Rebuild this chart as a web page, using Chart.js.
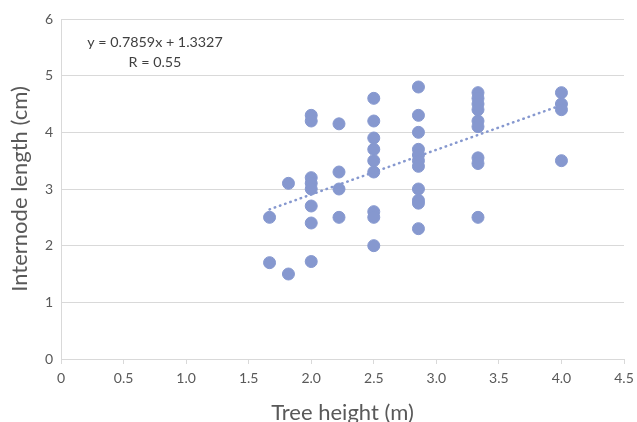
<!DOCTYPE html>
<html>
<head>
<meta charset="utf-8">
<script src="https://cdn.jsdelivr.net/npm/chart.js@4"></script>
<style>
  html, body { margin: 0; padding: 0; background: #fff; }
  #wrap { width: 637px; height: 422px; }
</style>
</head>
<body>
<div id="wrap"><canvas id="chart" width="637" height="422"></canvas></div>
<script>
// --- Data ---
// tree height columns (m) and the internode lengths measured at each
const heights = [1.667, 1.818, 2, 2.222, 2.5, 2.857, 3.333, 4];
const lengths = [
    [2.5, 1.7],
    [3.1, 1.5],
    [4.3, 4.2, 3.2, 3.1, 3.0, 2.7, 2.4, 1.72],
    [4.15, 3.3, 3.0, 2.5],
    [4.6, 4.2, 3.9, 3.7, 3.5, 3.3, 2.6, 2.5, 2.0],
    [4.8, 4.3, 4.0, 3.7, 3.6, 3.5, 3.4, 3.0, 2.8, 2.75, 2.3],
    [4.7, 4.6, 4.5, 4.4, 4.2, 4.1, 3.55, 3.45, 2.5],
    [4.7, 4.5, 4.4, 3.5]
];
// linear trendline end points
const trendX = [1.667, 4];
const trendY = [2.64, 4.48];
const equationText = 'y = 0.7859x + 1.3327';
const rText = 'R = 0.55';

const xTicks = [0, 0.5, 1, 1.5, 2, 2.5, 3, 3.5, 4, 4.5];
const yTicks = [0, 1, 2, 3, 4, 5, 6];

const dotColor = 'rgb(134,152,207)';
const textColor = '#595959';
const fontFamily = 'Lato, "Open Sans", sans-serif';

// flatten into scatter points
const points = [];
heights.forEach((h, i) => {
    lengths[i].forEach(v => points.push({ x: h, y: v }));
});
const trendPoints = trendX.map((x, i) => ({ x: x, y: trendY[i] }));

// equation label in the top-left corner
const equationPlugin = {
    id: 'equation',
    afterDraw(chart) {
        const ctx = chart.ctx;
        ctx.save();
        ctx.fillStyle = '#404040';
        ctx.font = '14.3px ' + fontFamily;
        ctx.textAlign = 'center';
        ctx.textBaseline = 'middle';
        ctx.fillText(equationText, 155, 42);
        ctx.fillText(rText, 155, 62);
        ctx.restore();
    }
};

const ctx = document.getElementById('chart').getContext('2d');
new Chart(ctx, {
    type: 'scatter',
    data: {
        datasets: [
            {
                type: 'line',
                label: 'Trend',
                data: trendPoints,
                borderColor: dotColor,
                borderWidth: 2.5,
                borderDash: [0.5, 5],
                borderCapStyle: 'round',
                pointRadius: 0,
                fill: false,
                order: 0
            },
            {
                label: 'Internode length',
                data: points,
                backgroundColor: dotColor,
                borderColor: dotColor,
                pointRadius: 6,
                pointHoverRadius: 6,
                order: 1
            }
        ]
    },
    options: {
        responsive: false,
        animation: false,
        layout: { padding: { top: 19, right: 13, left: 0, bottom: 0 } },
        plugins: { legend: { display: false }, tooltip: { enabled: false } },
        scales: {
            x: {
                type: 'linear',
                min: 0,
                max: 4.5,
                afterBuildTicks: s => { s.ticks = xTicks.map(v => ({ value: v })); },
                ticks: { color: textColor, font: { family: fontFamily, size: 14 }, padding: 6, maxRotation: 0 },
                grid: { drawOnChartArea: false, drawTicks: true, tickLength: 5, color: '#d9d9d9' },
                border: { color: '#d9d9d9' },
                title: {
                    display: true,
                    text: 'Tree height (m)',
                    color: textColor,
                    font: { family: fontFamily, size: 22, lineHeight: 1 },
                    padding: { top: 4, bottom: -2 }
                },
                afterFit: s => { s.height = 63; s.paddingRight = 0; s.paddingLeft = 0; }
            },
            y: {
                type: 'linear',
                min: 0,
                max: 6,
                ticks: {
                    stepSize: 0.2,
                    color: textColor,
                    font: { family: fontFamily, size: 14 },
                    padding: 8,
                    callback: v => (yTicks.includes(Math.round(v * 10) / 10) ? String(Math.round(v)) : null)
                },
                grid: {
                    drawTicks: false,
                    color: c => (Math.abs(c.tick.value - Math.round(c.tick.value)) < 1e-6 ? '#d9d9d9' : '#efefef')
                },
                border: { color: '#d9d9d9' },
                title: {
                    display: true,
                    text: 'Internode length (cm)',
                    color: textColor,
                    font: { family: fontFamily, size: 22, lineHeight: 1.2 },
                    padding: { top: 7, bottom: 4 }
                },
                afterFit: s => { s.width = 61; }
            }
        }
    },
    plugins: [equationPlugin]
});
</script>
</body>
</html>
